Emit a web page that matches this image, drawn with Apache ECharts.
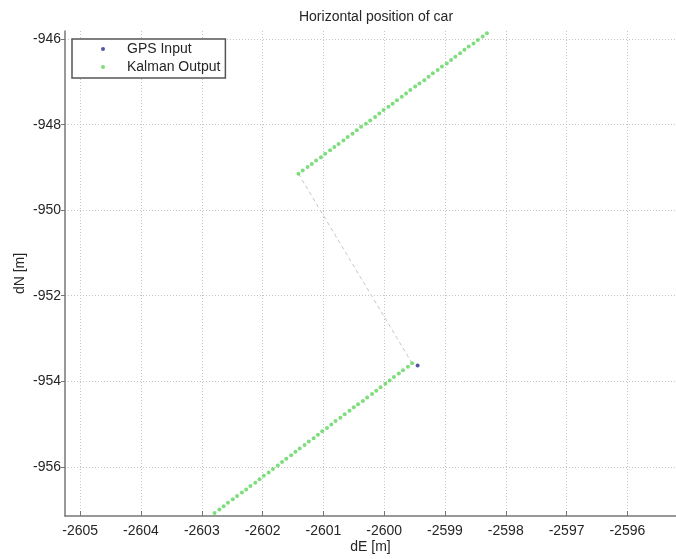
<!DOCTYPE html>
<html>
<head>
<meta charset="utf-8">
<title>Horizontal position of car</title>
<script src="https://cdn.jsdelivr.net/npm/echarts@6/dist/echarts.min.js"></script>
<style>
  html, body { margin: 0; padding: 0; background: #fff; }
  #chart { width: 676px; height: 559px; }
</style>
</head>
<body>
<div id="chart"></div>
<script>
// Tick values on both axes
const eastTicks = [-2605, -2604, -2603, -2602, -2601, -2600, -2599, -2598, -2597, -2596];
const northTicks = [-956, -954, -952, -950, -948, -946];

// GPS input fix (only the one not hidden under the filter output)
const gpsEast = [-2599.45];
const gpsNorth = [-953.63];

// Kalman filter output, first leg (south-west to north-east)
const kfEastA = [-2602.86, -2602.79, -2602.71, -2602.64, -2602.57, -2602.49, -2602.42, -2602.34, -2602.27, -2602.20,
  -2602.12, -2602.05, -2601.98, -2601.90, -2601.83, -2601.75, -2601.68, -2601.61, -2601.53, -2601.46,
  -2601.39, -2601.31, -2601.24, -2601.16, -2601.09, -2601.02, -2600.94, -2600.87, -2600.80, -2600.72,
  -2600.65, -2600.57, -2600.50, -2600.43, -2600.35, -2600.28, -2600.20, -2600.13, -2600.06, -2599.98,
  -2599.91, -2599.84, -2599.76, -2599.69, -2599.61, -2599.54];
const kfNorthA = [-957.16, -957.08, -957.00, -956.92, -956.84, -956.76, -956.68, -956.60, -956.53, -956.45,
  -956.37, -956.29, -956.21, -956.13, -956.05, -955.97, -955.89, -955.81, -955.73, -955.65,
  -955.57, -955.49, -955.41, -955.33, -955.25, -955.17, -955.09, -955.01, -954.93, -954.85,
  -954.77, -954.69, -954.61, -954.54, -954.46, -954.38, -954.30, -954.22, -954.14, -954.06,
  -953.98, -953.90, -953.82, -953.74, -953.66, -953.58];

// Kalman filter output, second leg
const kfEastB = [-2601.41, -2601.34, -2601.26, -2601.19, -2601.12, -2601.04, -2600.97, -2600.89, -2600.82, -2600.75,
  -2600.67, -2600.60, -2600.52, -2600.45, -2600.38, -2600.30, -2600.23, -2600.15, -2600.08, -2600.01,
  -2599.93, -2599.86, -2599.79, -2599.71, -2599.64, -2599.57, -2599.49, -2599.42, -2599.34, -2599.27,
  -2599.20, -2599.12, -2599.05, -2598.97, -2598.90, -2598.83, -2598.75, -2598.68, -2598.61, -2598.53,
  -2598.46, -2598.38, -2598.31];
const kfNorthB = [-949.15, -949.07, -948.99, -948.92, -948.84, -948.76, -948.68, -948.60, -948.52, -948.45,
  -948.37, -948.29, -948.21, -948.13, -948.05, -947.98, -947.90, -947.82, -947.74, -947.66,
  -947.58, -947.51, -947.43, -947.35, -947.27, -947.19, -947.11, -947.04, -946.96, -946.88,
  -946.80, -946.72, -946.64, -946.57, -946.49, -946.41, -946.33, -946.25, -946.17, -946.10,
  -946.02, -945.94, -945.86];

const zip = (xs, ys) => xs.map((x, i) => [x, ys[i]]);
const legA = zip(kfEastA, kfNorthA);
const legB = zip(kfEastB, kfNorthB);
const kfPoints = legA.concat(legB);
// jump between the two legs
const jump = [legA[legA.length - 1], legB[0]];

const FONT = 'Liberation Sans, Arial, Helvetica, sans-serif';
const TEXT = '#262626';
const plain = v => String(v);

const chart = echarts.init(document.getElementById('chart'), null, { renderer: 'canvas' });

chart.setOption({
  animation: false,
  backgroundColor: '#ffffff',
  textStyle: { fontFamily: FONT },
  title: {
    text: 'Horizontal position of car',
    left: 371, top: 5, textAlign: 'center',
    textStyle: { fontFamily: FONT, fontSize: 14, fontWeight: 'normal', color: TEXT }
  },
  grid: { left: 65, right: 0, top: 31, bottom: 43, containLabel: false },
  legend: {
    orient: 'vertical',
    left: 72, top: 39,
    padding: [3, 5, 4, 29],
    itemWidth: 4, itemHeight: 4, itemGap: 4,
    backgroundColor: '#fff',
    borderColor: '#555', borderWidth: 1.5, borderRadius: 0,
    textStyle: { fontFamily: FONT, fontSize: 14, color: TEXT, padding: [0, 0, 0, 17] },
    data: [
      { name: 'GPS Input', icon: 'circle' },
      { name: 'Kalman Output', icon: 'circle' }
    ]
  },
  xAxis: {
    type: 'value',
    min: -2605.25, max: -2595.2,
    name: 'dE [m]', nameLocation: 'middle', nameGap: 24, nameMoveOverlap: false,
    nameTextStyle: { fontFamily: FONT, fontSize: 14, color: TEXT },
    axisLine: { show: true, onZero: false, lineStyle: { color: '#777', width: 1.5 } },
    axisTick: { show: true, inside: true, length: 5, customValues: eastTicks, lineStyle: { color: '#777' } },
    axisLabel: { customValues: eastTicks, formatter: plain, margin: 8, fontFamily: FONT, fontSize: 14, color: TEXT },
    splitLine: { show: true, lineStyle: { color: '#c4c4c4', type: [1, 2], width: 1 } }
  },
  yAxis: {
    type: 'value',
    min: -957.15, max: -945.81,
    name: 'dN [m]', nameLocation: 'middle', nameGap: 38, nameRotate: 90, nameMoveOverlap: false,
    nameTextStyle: { fontFamily: FONT, fontSize: 14, color: TEXT },
    axisLine: { show: true, onZero: false, lineStyle: { color: '#777', width: 1.5 } },
    axisTick: { show: true, inside: false, length: 4, customValues: northTicks, lineStyle: { color: '#777' } },
    axisLabel: { customValues: northTicks, formatter: plain, margin: 4, fontFamily: FONT, fontSize: 14, color: TEXT },
    splitLine: { show: true, lineStyle: { color: '#c4c4c4', type: [1, 2], width: 1 } }
  },
  series: [
    {
      name: 'jump',
      type: 'line',
      data: jump,
      symbol: 'none',
      silent: true,
      lineStyle: { color: '#c8c8c8', width: 1, type: [4, 3] },
      z: 1
    },
    {
      name: 'GPS Input',
      type: 'scatter',
      data: zip(gpsEast, gpsNorth),
      symbol: 'circle', symbolSize: 4,
      itemStyle: { color: '#2b2b8f' },
      z: 2
    },
    {
      name: 'Kalman Output',
      type: 'scatter',
      data: kfPoints,
      symbol: 'circle', symbolSize: 4,
      itemStyle: { color: '#5ed65e' },
      clip: true,
      z: 3
    }
  ]
});
</script>
</body>
</html>
